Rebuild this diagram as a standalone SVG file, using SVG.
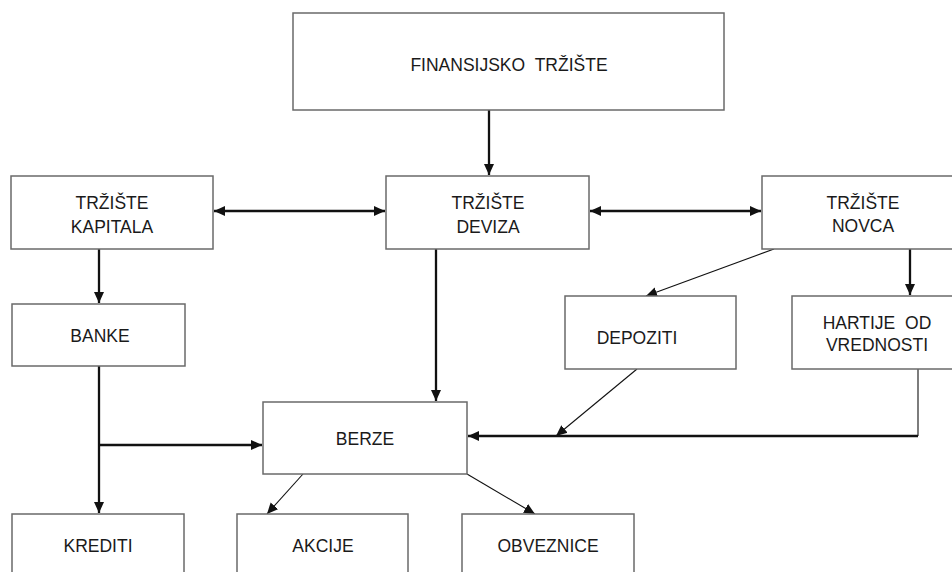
<svg xmlns="http://www.w3.org/2000/svg" width="952" height="572" viewBox="0 0 952 572">
<style>
.box{fill:#fff;stroke:#6a6a6a;stroke-width:1.5}
.t{font-family:"Liberation Sans",Arial,sans-serif;font-size:17.5px;fill:#1a1a1a;text-anchor:middle}
.thick{stroke:#111;stroke-width:2.3;fill:none}
.thin{stroke:#111;stroke-width:1.1;fill:none}
</style>
<defs>
<marker id="ah" markerUnits="userSpaceOnUse" markerWidth="12" markerHeight="12" refX="11" refY="5" orient="auto-start-reverse" viewBox="0 0 12 10">
<path d="M0,0 L11,5 L0,10 z" fill="#111"/>
</marker>
</defs>
<rect width="952" height="572" fill="#fff"/>
<g id="connectors">
<line class="thick" x1="489" y1="110" x2="489" y2="175" marker-end="url(#ah)"/>
<line class="thick" x1="214" y1="211" x2="385" y2="211" marker-start="url(#ah)" marker-end="url(#ah)"/>
<line class="thick" x1="590" y1="211" x2="761" y2="211" marker-start="url(#ah)" marker-end="url(#ah)"/>
<line class="thick" x1="99" y1="249" x2="99" y2="303" marker-end="url(#ah)"/>
<line class="thick" x1="436" y1="249" x2="436" y2="401" marker-end="url(#ah)"/>
<line class="thick" x1="910" y1="249" x2="910" y2="295" marker-end="url(#ah)"/>
<line class="thin" x1="774" y1="249" x2="646" y2="296" marker-end="url(#ah)"/>
<line class="thin" x1="637" y1="369" x2="556" y2="436" marker-end="url(#ah)"/>
<polyline class="thin" points="918,369 918,436"/>
<line class="thick" x1="918" y1="436" x2="468" y2="436" marker-end="url(#ah)"/>
<line class="thick" x1="99" y1="366" x2="99" y2="513" marker-end="url(#ah)"/>
<line class="thick" x1="99" y1="445" x2="262" y2="445" marker-end="url(#ah)"/>
<line class="thin" x1="303" y1="474" x2="267" y2="514" marker-end="url(#ah)"/>
<line class="thin" x1="467" y1="474" x2="535" y2="514" marker-end="url(#ah)"/>
</g>
<g id="n-finansijsko">
<rect class="box" x="293" y="13" width="431" height="97"/>
<text class="t" x="509" y="71" word-spacing="5">FINANSIJSKO TRŽIŠTE</text>
</g>
<g id="n-kapitala">
<rect class="box" x="11" y="176" width="202" height="73"/>
<text class="t" x="112" y="209">TRŽIŠTE</text>
<text class="t" x="112" y="233">KAPITALA</text>
</g>
<g id="n-deviza">
<rect class="box" x="386" y="176" width="203" height="73"/>
<text class="t" x="488" y="209">TRŽIŠTE</text>
<text class="t" x="488" y="233">DEVIZA</text>
</g>
<g id="n-novca">
<rect class="box" x="762" y="176" width="202" height="73"/>
<text class="t" x="863" y="209">TRŽIŠTE</text>
<text class="t" x="863" y="232">NOVCA</text>
</g>
<g id="n-banke">
<rect class="box" x="12" y="304" width="173" height="62"/>
<text class="t" x="100" y="342">BANKE</text>
</g>
<g id="n-depoziti">
<rect class="box" x="565" y="296" width="171" height="73"/>
<text class="t" x="637" y="344">DEPOZITI</text>
</g>
<g id="n-hartije">
<rect class="box" x="792" y="296" width="170" height="73"/>
<text class="t" x="877" y="329" word-spacing="5">HARTIJE OD</text>
<text class="t" x="877" y="351">VREDNOSTI</text>
</g>
<g id="n-berze">
<rect class="box" x="263" y="402" width="204" height="72"/>
<text class="t" x="365" y="445">BERZE</text>
</g>
<g id="n-krediti">
<rect class="box" x="12" y="514" width="172" height="80"/>
<text class="t" x="98" y="552">KREDITI</text>
</g>
<g id="n-akcije">
<rect class="box" x="237" y="514" width="171" height="80"/>
<text class="t" x="323" y="552">AKCIJE</text>
</g>
<g id="n-obveznice">
<rect class="box" x="462" y="514" width="172" height="80"/>
<text class="t" x="548" y="552">OBVEZNICE</text>
</g>
</svg>
